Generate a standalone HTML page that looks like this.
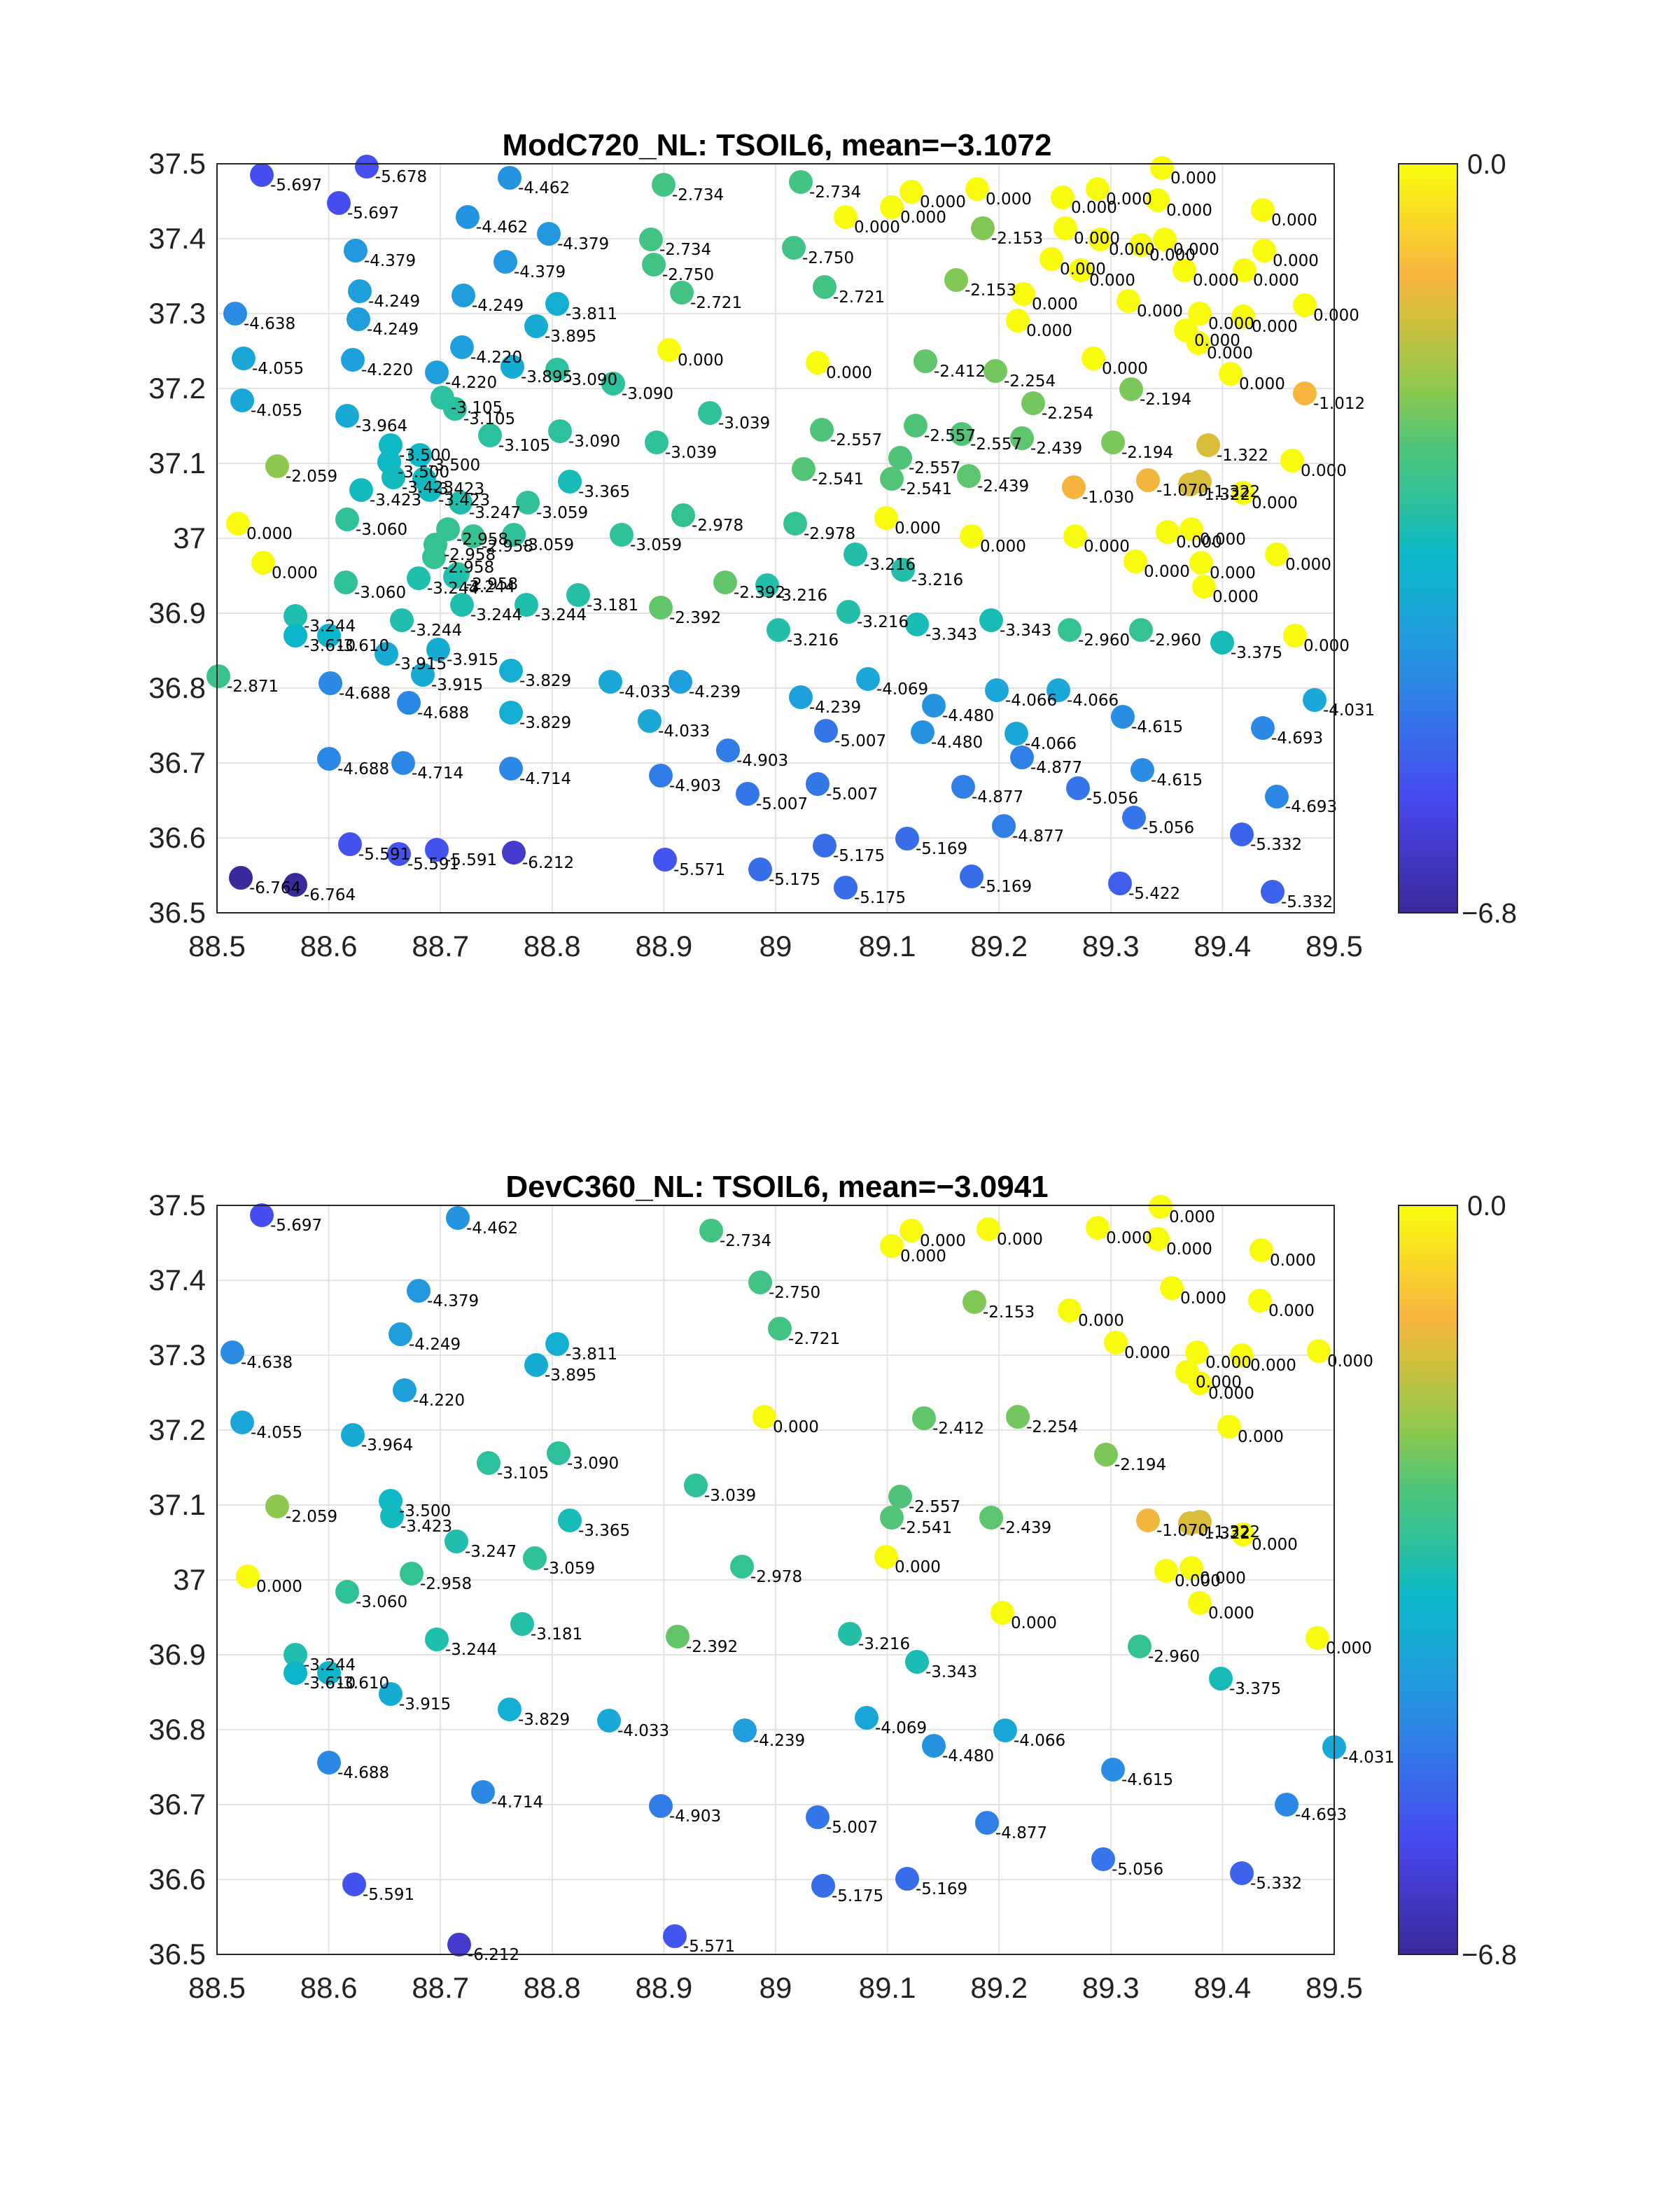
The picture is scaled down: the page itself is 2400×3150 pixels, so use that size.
<!DOCTYPE html>
<html><head><meta charset="utf-8"><style>
html,body{margin:0;padding:0;background:#fff;}
svg{display:block;}
</style></head><body>
<svg id="s" xmlns="http://www.w3.org/2000/svg" width="2400" height="3150" viewBox="0 0 1200 1575"></svg>
<script>
(function(){
const NS="http://www.w3.org/2000/svg";
const svg=document.getElementById('s');
function el(t,a,txt){const e=document.createElementNS(NS,t);for(const k in a)e.setAttribute(k,a[k]);if(txt!==undefined)e.textContent=txt;svg.appendChild(e);return e;}
const stops=[[0,[58,42,154]],[0.15,[72,72,240]],[0.3,[45,134,230]],[0.4,[27,166,216]],[0.48,[10,184,200]],[0.55,[46,193,154]],[0.62,[76,196,122]],[0.7,[142,200,76]],[0.8,[214,190,58]],[0.85,[247,180,61]],[0.92,[247,214,42]],[1,[249,251,14]]];
function col(v){let t=(v+6.8)/6.8;t=Math.max(0,Math.min(1,t));for(let i=1;i<stops.length;i++){if(t<=stops[i][0]){const a=stops[i-1],b=stops[i];const f=(t-a[0])/(b[0]-a[0]);return 'rgb('+a[1].map((c,j)=>Math.round(c+(b[1][j]-c)*f)).join(',')+')';}}return 'rgb(249,251,14)';}
function panel(T0,title,pts){
 const L=155,R=953,T=T0,B=T0+535;
 el('rect',{x:L,y:T,width:R-L,height:B-T,fill:'#fff'});
 for(let i=0;i<=10;i++){const x=L+(R-L)*i/10;el('line',{x1:x,y1:T,x2:x,y2:B,stroke:'#e3e3e3','stroke-width':1});
  el('text',{x:x,y:B+31,'font-size':21,'text-anchor':'middle','font-family':'Liberation Sans, sans-serif',fill:'#222'},(88.5+i*0.1).toFixed(1).replace(/\.0$/,''));}
 for(let i=0;i<=10;i++){const y=B-(B-T)*i/10;el('line',{x1:L,y1:y,x2:R,y2:y,stroke:'#e3e3e3','stroke-width':1});
  el('text',{x:L-8,y:y+7,'font-size':21,'text-anchor':'end','font-family':'Liberation Sans, sans-serif',fill:'#222'},(36.5+i*0.1).toFixed(1).replace(/\.0$/,''));}
 for(const p of pts){el('circle',{cx:p[0],cy:p[1],r:8.5,fill:col(p[2])});}
 for(const p of pts){el('text',{x:p[0]+6,y:p[1]+11,'font-size':11.5,'font-family':'DejaVu Sans, sans-serif',fill:'#000'},p[2]===0?'0.000':p[2].toFixed(3));}
 el('rect',{x:L,y:T,width:R-L,height:B-T,fill:'none',stroke:'#262626','stroke-width':1});
 el('text',{x:555,y:T-6,'font-size':22,'font-weight':'bold','text-anchor':'middle','font-family':'Liberation Sans, sans-serif',fill:'#000','xml:space':'preserve'},title);
 const gid='g'+T0;
 const d=document.createElementNS(NS,'defs');const g=document.createElementNS(NS,'linearGradient');g.setAttribute('id',gid);g.setAttribute('x1','0');g.setAttribute('y1','1');g.setAttribute('x2','0');g.setAttribute('y2','0');
 for(const s of stops){const st=document.createElementNS(NS,'stop');st.setAttribute('offset',s[0]);st.setAttribute('stop-color','rgb('+s[1].join(',')+')');g.appendChild(st);}
 d.appendChild(g);svg.appendChild(d);
 el('rect',{x:999,y:T,width:42,height:B-T,fill:'url(#'+gid+')',stroke:'#262626','stroke-width':1});
 el('text',{x:1048,y:T+7,'font-size':20,'font-family':'Liberation Sans, sans-serif',fill:'#222'},'0.0');
 el('text',{x:1044,y:B+7,'font-size':20,'font-family':'Liberation Sans, sans-serif',fill:'#222'},'\u22126.8');
}
const PTS_TOP=[[187,125,-5.697],[262,119,-5.678],[242,145,-5.697],[364,127,-4.462],[474,132,-2.734],[572,130,-2.734],[651,137,0],[698,135,0],[759,141,0],[784,135,0],[830,120,0],[604,155,0],[637,148,0],[827,143,0],[334,155,-4.462],[392,167,-4.379],[465,171,-2.734],[567,177,-2.750],[702,163,-2.153],[761,163,0],[786,171,0],[815,175,0],[832,171,0],[902,150,0],[254,179,-4.379],[361,187,-4.379],[467,189,-2.750],[751,185,0],[772,193,0],[846,193,0],[889,193,0],[903,179,0],[683,200,-2.153],[589,205,-2.721],[487,209,-2.721],[168,224,-4.638],[257,208,-4.249],[331,211,-4.249],[398,217,-3.811],[731,210,0],[806,215,0],[857,224,0],[888,226,0],[932,218,0],[256,228,-4.249],[383,233,-3.895],[727,229,0],[847,236,0],[856,245,0],[174,256,-4.055],[252,257,-4.220],[330,248,-4.220],[366,262,-3.895],[398,264,-3.09],[478,250,0],[584,259,0],[661,258,-2.412],[711,265,-2.254],[781,256,0],[879,267,0],[312,266,-4.220],[438,274,-3.090],[808,278,-2.194],[932,281,-1.012],[173,286,-4.055],[316,284,-3.105],[325,292,-3.105],[507,295,-3.039],[738,288,-2.254],[248,297,-3.964],[350,311,-3.105],[400,308,-3.090],[469,316,-3.039],[587,307,-2.557],[654,304,-2.557],[687,310,-2.557],[730,313,-2.439],[795,316,-2.194],[863,318,-1.322],[279,318,-3.5],[300,325,-3.5],[278,330,-3.5],[198,333,-2.059],[574,335,-2.541],[643,327,-2.557],[637,342,-2.541],[692,340,-2.439],[923,329,0],[281,341,-3.423],[303,342,-3.423],[307,350,-3.423],[258,350,-3.423],[407,344,-3.365],[767,348,-1.030],[820,343,-1.07],[850,346,-1.322],[857,344,-1.322],[888,352,0],[329,359,-3.247],[377,359,-3.059],[170,374,0],[633,370,0],[568,374,-2.978],[488,368,-2.978],[248,371,-3.060],[320,378,-2.958],[338,383,-2.958],[367,382,-3.059],[311,389,-2.958],[444,382,-3.059],[694,383,0],[768,383,0],[834,380,0],[851,378,0],[188,402,0],[858,402,0],[912,396,0],[811,401,0],[310,398,-2.958],[327,410,-2.958],[299,413,-3.244],[247,416,-3.060],[325,412,-3.244],[518,416,-2.392],[548,418,-3.216],[611,396,-3.216],[645,407,-3.216],[413,425,-3.181],[376,432,-3.244],[330,432,-3.244],[860,419,0],[472,434,-2.392],[606,437,-3.216],[556,450,-3.216],[211,440,-3.244],[287,443,-3.244],[708,443,-3.343],[655,446,-3.343],[764,450,-2.960],[815,450,-2.960],[873,459,-3.375],[925,454,0],[211,454,-3.610],[235,454,-3.610],[276,467,-3.915],[313,464,-3.915],[302,482,-3.915],[156,483,-2.871],[365,479,-3.829],[436,487,-4.033],[486,487,-4.239],[620,485,-4.069],[236,488,-4.688],[292,502,-4.688],[572,498,-4.239],[667,504,-4.480],[712,493,-4.066],[756,493,-4.066],[939,500,-4.031],[365,509,-3.829],[464,515,-4.033],[590,522,-5.007],[659,523,-4.480],[726,524,-4.066],[802,512,-4.615],[902,520,-4.693],[520,536,-4.903],[730,541,-4.877],[235,542,-4.688],[288,545,-4.714],[365,549,-4.714],[472,554,-4.903],[534,567,-5.007],[584,560,-5.007],[688,562,-4.877],[770,563,-5.056],[816,550,-4.615],[912,569,-4.693],[810,584,-5.056],[717,590,-4.877],[250,603,-5.591],[285,610,-5.591],[312,607,-5.591],[367,609,-6.212],[475,614,-5.571],[648,599,-5.169],[589,604,-5.175],[887,596,-5.332],[543,621,-5.175],[694,626,-5.169],[604,634,-5.175],[800,631,-5.422],[909,637,-5.332],[172,627,-6.764],[211,632,-6.764]];
const PTS_BOT=[[187,868,-5.697],[327,870,-4.462],[508,879,-2.734],[651,879,0],[706,878,0],[637,890,0],[784,877,0],[829,862,0],[827,885,0],[901,893,0],[543,916,-2.750],[299,922,-4.379],[696,930,-2.153],[557,949,-2.721],[764,936,0],[837,920,0],[797,959,0],[855,966,0],[848,980,0],[857,988,0],[887,968,0],[900,929,0],[942,965,0],[166,966,-4.638],[286,953,-4.249],[398,960,-3.811],[383,975,-3.895],[289,993,-4.220],[173,1016,-4.055],[546,1012,0],[660,1013,-2.412],[727,1012,-2.254],[878,1019,0],[252,1025,-3.964],[399,1038,-3.090],[349,1045,-3.105],[497,1061,-3.039],[790,1039,-2.194],[643,1069,-2.557],[637,1084,-2.541],[708,1084,-2.439],[198,1076,-2.059],[279,1072,-3.5],[280,1083,-3.423],[407,1086,-3.365],[820,1086,-1.07],[850,1088,-1.322],[857,1087,-1.322],[888,1096,0],[326,1101,-3.247],[382,1113,-3.059],[530,1119,-2.978],[633,1112,0],[177,1126,0],[294,1124,-2.958],[833,1122,0],[851,1120,0],[857,1145,0],[248,1137,-3.060],[716,1152,0],[941,1170,0],[373,1160,-3.181],[484,1169,-2.392],[312,1171,-3.244],[607,1167,-3.216],[655,1187,-3.343],[814,1176,-2.960],[872,1199,-3.375],[211,1182,-3.244],[211,1195,-3.610],[235,1195,-3.610],[279,1210,-3.915],[364,1221,-3.829],[435,1229,-4.033],[532,1236,-4.239],[619,1227,-4.069],[718,1236,-4.066],[953,1248,-4.031],[667,1247,-4.480],[235,1259,-4.688],[345,1280,-4.714],[795,1264,-4.615],[919,1289,-4.693],[472,1290,-4.903],[584,1298,-5.007],[705,1302,-4.877],[788,1328,-5.056],[253,1346,-5.591],[588,1347,-5.175],[648,1342,-5.169],[887,1338,-5.332],[328,1389,-6.212],[482,1383,-5.571]];
panel(117,'ModC720_NL: TSOIL6,  mean=\u22123.1072',PTS_TOP);
panel(861,'DevC360_NL: TSOIL6,  mean=\u22123.0941',PTS_BOT);
})();
</script>
</body></html>
